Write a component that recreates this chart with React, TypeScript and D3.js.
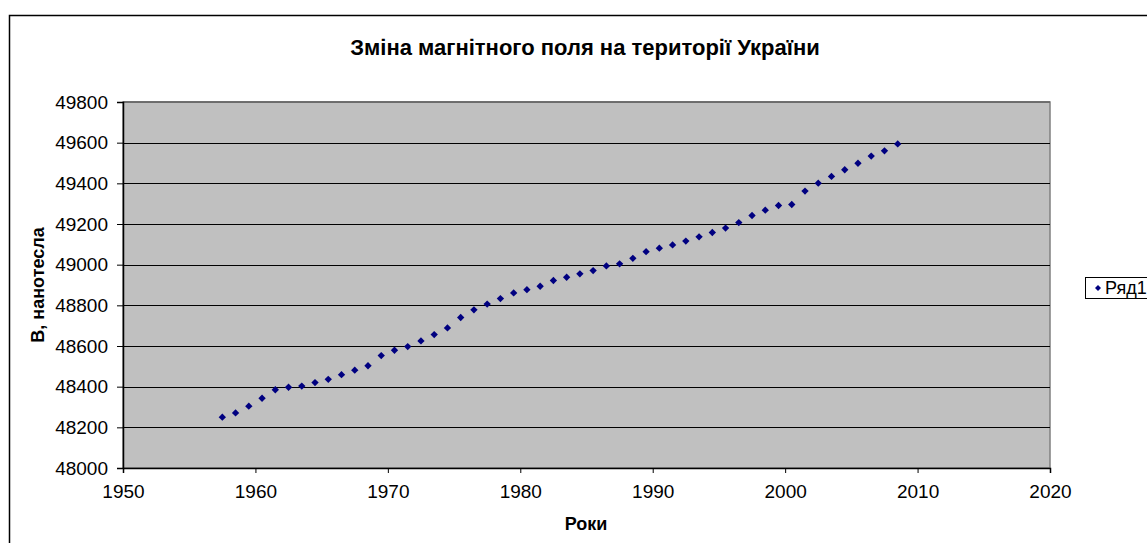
import React, { useEffect, useRef } from "react";
import * as d3 from "d3";

const width = 1147;
const height = 543;
const plot = { left: 123, top: 102, right: 1050, bottom: 468 };
const font = "Arial, 'Liberation Sans', sans-serif";
const navy = "#000080";

const title = "Зміна магнітного поля на території України";
const yLabel = "B, нанотесла";
const xLabel = "Роки";
const seriesName = "Ряд1";

const years = [
  1957.5, 1958.5, 1959.5, 1960.5, 1961.5, 1962.5, 1963.5, 1964.5, 1965.5,
  1966.5, 1967.5, 1968.5, 1969.5, 1970.5, 1971.5, 1972.5, 1973.5, 1974.5,
  1975.5, 1976.5, 1977.5, 1978.5, 1979.5, 1980.5, 1981.5, 1982.5, 1983.5,
  1984.5, 1985.5, 1986.5, 1987.5, 1988.5, 1989.5, 1990.5, 1991.5, 1992.5,
  1993.5, 1994.5, 1995.5, 1996.5, 1997.5, 1998.5, 1999.5, 2000.5, 2001.5,
  2002.5, 2003.5, 2004.5, 2005.5, 2006.5, 2007.5, 2008.5
];
const fieldB = [
  48250, 48271, 48304, 48343, 48385, 48397, 48403, 48420, 48436,
  48459, 48481, 48503, 48553, 48579, 48597, 48625, 48656, 48689,
  48740, 48778, 48806, 48833, 48861, 48877, 48894, 48922, 48938,
  48955, 48971, 48994, 49004, 49031, 49064, 49081, 49097, 49116,
  49137, 49158, 49180, 49207, 49242, 49268, 49291, 49296, 49362,
  49401, 49434, 49467, 49499, 49534, 49560, 49594
];
const xTicks = [1950, 1960, 1970, 1980, 1990, 2000, 2010, 2020];
const yTicks = [48000, 48200, 48400, 48600, 48800, 49000, 49200, 49400, 49600, 49800];

export default function App() {
  const axisX = useRef<SVGGElement>(null);
  const axisY = useRef<SVGGElement>(null);

  const xScale = d3.scaleLinear().domain([1950, 2020]).range([plot.left, plot.right]);
  const yScale = d3.scaleLinear().domain([48000, 49800]).range([plot.bottom, plot.top]);

  // rotated square -> excel style diamond
  const diamond = d3.symbol(d3.symbolSquare, 27)();

  useEffect(() => {
    const ax = d3.select(axisX.current!);
    ax.call(d3.axisBottom(xScale).tickValues(xTicks).tickFormat(d3.format("d")).tickSize(5).tickPadding(12));
    const ay = d3.select(axisY.current!);
    ay.call(d3.axisLeft(yScale).tickValues(yTicks).tickFormat(d3.format("d")).tickSize(6).tickPadding(9));
    [ax, ay].forEach(g => {
      g.select(".domain").attr("stroke", "#000").attr("stroke-width", 1.5);
      g.selectAll(".tick line").attr("stroke", "#000");
      g.selectAll("text").attr("font-family", font).attr("font-size", 19).attr("fill", "#000");
    });
  }, []);

  return (
    <svg width={width} height={height} style={{ position: "absolute", left: 0, top: 0 }}>
      <rect x={0} y={0} width={width} height={height} fill="#fff" />
      <rect x={9.5} y={15.5} width={1300} height={700} fill="#fff" stroke="#000" strokeWidth={1.5} />
      <text x={585} y={55} textAnchor="middle" fontFamily={font} fontWeight="bold" fontSize={22}>
        {title}
      </text>
      <rect
        x={plot.left}
        y={plot.top}
        width={plot.right - plot.left}
        height={plot.bottom - plot.top}
        fill="#c0c0c0"
        stroke="#808080"
        strokeWidth={1.5}
      />
      {yTicks.slice(1, -1).map(t => (
        <line key={t} x1={plot.left} x2={plot.right} y1={Math.round(yScale(t)) + 0.5} y2={Math.round(yScale(t)) + 0.5} stroke="#000" />
      ))}
      <line x1={plot.left} x2={plot.right} y1={plot.top} y2={plot.top} stroke="#606060" strokeWidth={1.5} />
      <g ref={axisX} transform={`translate(0,${plot.bottom})`} />
      <g ref={axisY} transform={`translate(${plot.left},0)`} />
      {years.map((yr, i) => (
        <path
          key={yr}
          d={diamond}
          transform={`translate(${xScale(yr)},${yScale(fieldB[i])}) rotate(45)`}
          fill={navy}
        />
      ))}
      <text
        transform={`translate(44,285) rotate(-90)`}
        textAnchor="middle"
        fontFamily={font}
        fontWeight="bold"
        fontSize={18}
      >
        {yLabel}
      </text>
      <text x={586} y={530} textAnchor="middle" fontFamily={font} fontWeight="bold" fontSize={18}>
        {xLabel}
      </text>
      <rect x={1085.5} y={277.5} width={100} height={21} fill="#fff" stroke="#000" />
      <path d={d3.symbol(d3.symbolSquare, 18)()} transform="translate(1098,288) rotate(45)" fill={navy} />
      <text x={1105} y={294} fontFamily={font} fontSize={18}>
        {seriesName}
      </text>
    </svg>
  );
}
